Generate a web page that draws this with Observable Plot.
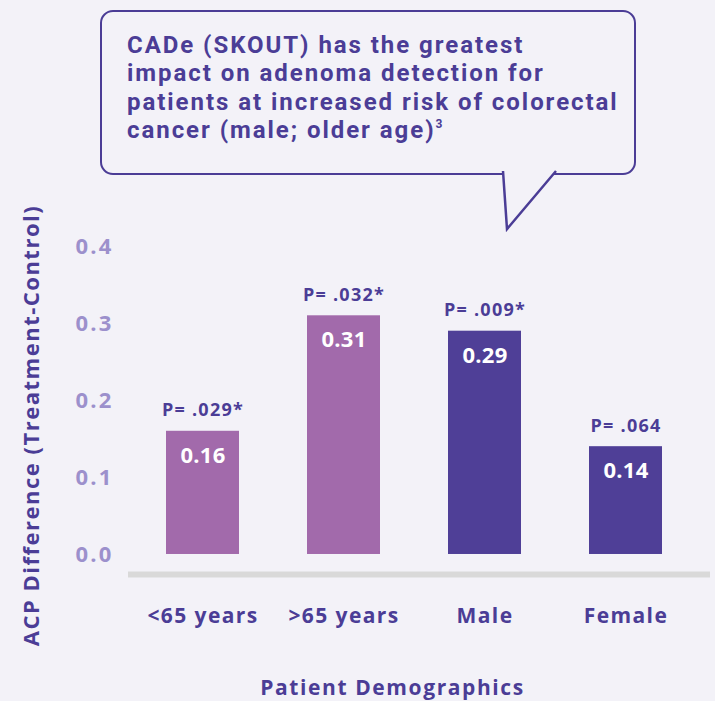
<!DOCTYPE html>
<html>
<head>
<meta charset="utf-8">
<script src="https://cdn.jsdelivr.net/npm/d3@7"></script>
<script src="https://cdn.jsdelivr.net/npm/@observablehq/plot@0.6"></script>
<style>
  html, body { margin: 0; padding: 0; background: #f3f2f8; }
  #wrap { position: relative; width: 715px; height: 701px; overflow: hidden; background: #f3f2f8;
          font-family: "Open Sans", sans-serif; }
  #bubble { position: absolute; left: 100px; top: 10px; width: 536px; height: 165px; box-sizing: border-box;
            border: 2.5px solid #4b3d96; border-radius: 13px; }
  #bubbleText { position: absolute; left: 127px; top: 30.5px; color: #4b3d96; font-weight: 700;
                font-family: Roboto, sans-serif;
                font-size: 24px; line-height: 28.5px; letter-spacing: 1.95px; white-space: nowrap; }
  #bubbleText div { height: 28.5px; }
  #bubbleText sup { font-size: 12px; vertical-align: 10px; line-height: 0; }
  #tail { position: absolute; left: 0; top: 0; }
  #chart { position: absolute; left: 0; top: 0; }
</style>
</head>
<body>
<div id="wrap">
  <div id="chart"></div>
  <div id="bubble"></div>
  <svg id="tail" width="715" height="240">
    <path d="M503,171 L507,229 L556,171" fill="#f3f2f8" stroke="#4b3d96" stroke-width="2.5" stroke-linejoin="miter"/>
  </svg>
  <div id="bubbleText"><div>CADe (SKOUT) has the greatest</div><div>impact on adenoma detection for</div><div>patients at increased risk of colorectal</div><div>cancer (male; older age)<sup>3</sup></div></div>
</div>
<script>
const categories = ["<65 years", ">65 years", "Male", "Female"];
const values = [0.16, 0.31, 0.29, 0.14];
const pLabels = ["P= .029*", "P= .032*", "P= .009*", "P= .064"];
const groups = ["Age", "Age", "Sex", "Sex"];
const yTicks = [0, 0.1, 0.2, 0.3, 0.4];
const baseline = -0.026;

const data = categories.map((c, i) => ({cat: c, value: values[i], p: pLabels[i], group: groups[i]}));

const textColor = "#4b3d96";
const font = "Open Sans";

const chart = Plot.plot({
  width: 715,
  height: 701,
  marginLeft: 128,
  marginRight: 5,
  marginTop: 246,
  marginBottom: 127,
  style: {background: "transparent", fontFamily: font},
  x: {domain: categories, paddingInner: 0.48, paddingOuter: 0.29, align: 0.44, label: null},
  y: {domain: [baseline, 0.4], label: null},
  color: {domain: ["Age", "Sex"], range: ["#a26aab", "#4f3f97"]},
  marks: [
    Plot.ruleY([baseline], {stroke: "#d9d9d9", strokeWidth: 6}),
    Plot.barY(data, {x: "cat", y: "value", fill: "group"}),
    Plot.text(data, {x: "cat", y: "value", text: "p", lineAnchor: "bottom", dy: -15,
      fill: textColor, fontSize: 18, fontWeight: 700}),
    Plot.text(data, {x: "cat", y: "value", text: d => d3.format(".2f")(d.value), lineAnchor: "top", dy: 16,
      fill: "white", fontSize: 22, fontWeight: 700}),
    Plot.axisY({ticks: yTicks, tickSize: 0, tickPadding: 15, tickFormat: d3.format(".1f"),
      fill: "#9c90cc", fontSize: 22, fontWeight: 700, label: null}),
    Plot.axisX({tickSize: 0, tickPadding: 34, fill: textColor, fontSize: 21, fontWeight: 700, label: null}),
    Plot.text(["Patient Demographics"], {frameAnchor: "bottom", lineAnchor: "bottom", dx: -27, dy: 120,
      fill: textColor, fontSize: 21, fontWeight: 700}),
    Plot.text(["ACP Difference (Treatment-Control)"], {frameAnchor: "left", rotate: -90, lineAnchor: "bottom",
      textAnchor: "middle", dx: -90, dy: 15, fill: textColor, fontSize: 22, fontWeight: 700})
  ]
});

// letter spacing to approximate the wide geometric typeface of the original
const svg = d3.select(chart);
svg.selectAll('g[aria-label="y-axis tick label"] text').style("letter-spacing", "2.2px");
svg.selectAll('g[aria-label="x-axis tick label"] text').style("letter-spacing", "1.4px");
const textGroups = svg.selectAll('g[aria-label="text"]').nodes();
const spacings = ["1.25px", "0.3px", "1.6px", "1.5px"];
textGroups.forEach((g, i) => d3.select(g).selectAll("text").style("letter-spacing", spacings[i]));

document.getElementById("chart").appendChild(chart);
</script>
</body>
</html>
